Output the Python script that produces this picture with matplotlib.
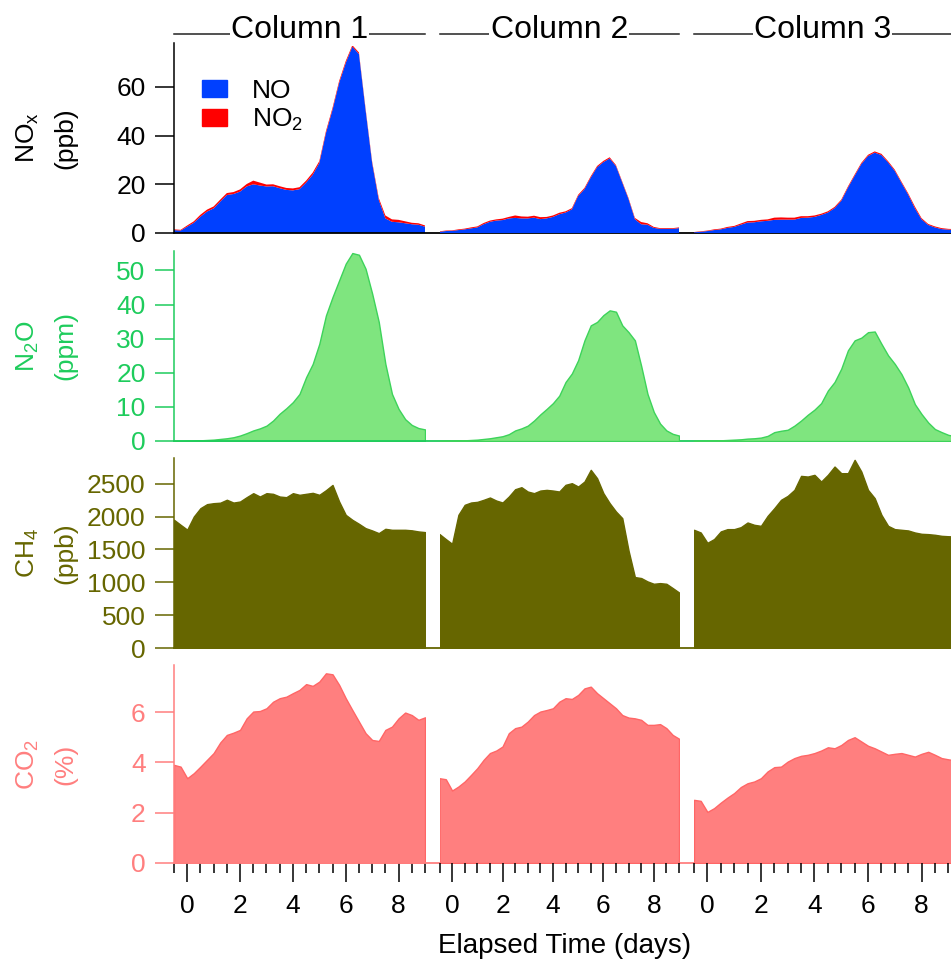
import numpy as np
import matplotlib
matplotlib.use("Agg")
import matplotlib.pyplot as plt
from matplotlib.lines import Line2D
from matplotlib.patches import Patch
from matplotlib.ticker import MultipleLocator, FixedLocator

plt.rcParams['font.family'] = ['Liberation Sans', 'DejaVu Sans']
plt.rcParams['mathtext.default'] = 'regular'

# elapsed time grid (days), column 3 runs a bit further
days_12 = np.arange(-0.5, 9.01, 0.25)
days_3 = np.arange(-0.5, 9.26, 0.25)

# NOx (ppb): NO and NO2, stacked
no_1 = [1.2, 1.0, 2.6, 4.2, 6.7, 8.8, 10.1, 12.9, 15.6, 16.0, 17.0, 19.1, 20.0, 19.5, 19.1, 19.2, 18.4, 17.7, 17.5, 18.0,
        20.7, 23.9, 28.7, 41.0, 50.6, 61.6, 69.8, 76.5, 73.5, 50.6, 28.7, 13.6, 6.0, 4.6, 4.4, 4.0, 3.6, 3.4, 2.6]
no2_1 = [0.3, 0.3, 0.5, 0.6, 0.8, 0.8, 0.8, 0.8, 0.8, 0.8, 0.9, 1.0, 1.5, 1.2, 0.8, 0.8, 0.8, 0.8, 0.8, 0.8,
         0.8, 0.9, 0.8, 0.8, 0.8, 0.8, 0.8, 0.6, 0.6, 0.6, 0.6, 0.8, 1.2, 1.0, 1.0, 0.8, 0.6, 0.6, 0.5]
no_2 = [0.5, 0.8, 0.9, 1.2, 1.5, 1.9, 2.3, 3.6, 4.6, 5.1, 5.3, 6.0, 6.2, 6.0, 6.0, 6.3, 5.7, 6.0, 6.6, 7.7,
        8.4, 9.7, 15.2, 18.0, 22.8, 27.0, 29.1, 30.6, 27.5, 20.7, 13.9, 5.7, 3.6, 3.4, 2.1, 1.7, 1.7, 1.7, 2.0]
no2_2 = [0.2, 0.2, 0.2, 0.3, 0.3, 0.4, 0.4, 0.5, 0.5, 0.5, 0.6, 0.6, 1.0, 0.8, 0.7, 0.8, 0.8, 0.6, 0.6, 0.6,
         0.5, 0.5, 0.5, 0.5, 0.5, 0.5, 0.5, 0.5, 0.4, 0.4, 0.4, 0.5, 0.9, 0.6, 0.4, 0.3, 0.3, 0.3, 0.3]
no_3 = [0.3, 0.5, 0.8, 1.2, 1.5, 2.1, 2.5, 3.4, 4.3, 4.4, 4.8, 5.0, 5.4, 5.5, 5.5, 5.5, 6.2, 6.3, 6.6, 7.4,
        8.4, 10.2, 13.2, 18.6, 23.5, 28.3, 31.6, 33.0, 32.0, 29.0, 25.5, 20.6, 15.8, 10.2, 5.6, 3.3, 2.3, 1.6, 1.4, 1.3]
no2_3 = [0.1, 0.2, 0.2, 0.3, 0.3, 0.4, 0.4, 0.5, 0.6, 0.6, 0.6, 0.6, 0.9, 0.9, 0.8, 0.8, 0.7, 0.6, 0.6, 0.5,
         0.5, 0.5, 0.5, 0.5, 0.5, 0.5, 0.5, 0.5, 0.5, 0.5, 0.5, 0.5, 0.5, 0.7, 0.5, 0.4, 0.4, 0.4, 0.3, 0.3]

# N2O (ppm)
n2o_1 = [0, 0.05, 0.1, 0.15, 0.2, 0.3, 0.4, 0.6, 0.8, 1.1, 1.6, 2.3, 3.1, 3.7, 4.5, 6.0, 8.0, 9.6, 11.4, 13.8,
         18.7, 22.6, 28.5, 36.8, 42.2, 47.1, 52.0, 55.1, 54.6, 50.5, 43.2, 34.9, 22.6, 13.8, 9.4, 6.4, 4.7, 3.8, 3.4]
n2o_2 = [0, 0.05, 0.1, 0.15, 0.2, 0.3, 0.4, 0.6, 0.8, 1.1, 1.4, 2.0, 3.1, 3.7, 4.5, 6.0, 7.8, 9.4, 11.1, 13.3,
         17.3, 19.8, 23.7, 29.5, 33.9, 34.9, 36.9, 38.3, 37.9, 33.9, 31.9, 29.5, 22.0, 13.8, 8.5, 5.1, 3.1, 2.1, 1.6]
n2o_3 = [0, 0.05, 0.1, 0.15, 0.2, 0.3, 0.4, 0.5, 0.7, 0.8, 1.0, 1.5, 2.6, 3.0, 3.3, 4.5, 6.0, 7.7, 9.2, 11.1,
         14.8, 17.3, 21.2, 26.6, 29.5, 30.3, 31.9, 32.1, 28.5, 25.1, 22.6, 19.6, 15.7, 10.8, 7.9, 5.4, 3.5, 2.6, 1.8, 1.4]

# CH4 (ppb)
ch4_1 = [1950, 1874, 1800, 2000, 2127, 2188, 2203, 2210, 2255, 2212, 2228, 2294, 2355, 2304, 2355, 2345, 2304, 2294, 2355, 2330,
         2345, 2360, 2330, 2400, 2480, 2228, 2025, 1950, 1889, 1823, 1788, 1747, 1813, 1798, 1798, 1798, 1790, 1773, 1763]
ch4_2 = [1733, 1657, 1585, 2026, 2178, 2213, 2223, 2254, 2289, 2243, 2213, 2304, 2415, 2446, 2380, 2355, 2395, 2405, 2395, 2380,
         2482, 2507, 2456, 2532, 2710, 2583, 2355, 2203, 2076, 1975, 1480, 1079, 1064, 1013, 977, 987, 977, 912, 845]
ch4_3 = [1798, 1757, 1600, 1657, 1773, 1808, 1808, 1838, 1909, 1874, 1858, 2010, 2127, 2254, 2314, 2405, 2618, 2608, 2634, 2532,
         2634, 2760, 2659, 2659, 2862, 2684, 2405, 2279, 2026, 1858, 1808, 1798, 1788, 1757, 1737, 1732, 1722, 1706, 1700, 1696]

# CO2 (%)
co2_1 = [3.90, 3.83, 3.37, 3.57, 3.83, 4.10, 4.37, 4.79, 5.09, 5.18, 5.29, 5.75, 6.02, 6.04, 6.15, 6.41, 6.55, 6.61, 6.75, 6.88,
         7.11, 7.04, 7.21, 7.54, 7.50, 7.08, 6.55, 6.08, 5.62, 5.16, 4.89, 4.85, 5.29, 5.42, 5.75, 5.98, 5.88, 5.69, 5.79]
co2_2 = [3.37, 3.33, 2.88, 3.04, 3.24, 3.50, 3.77, 4.10, 4.37, 4.47, 4.63, 5.16, 5.36, 5.42, 5.62, 5.88, 6.02, 6.08, 6.15, 6.41,
         6.55, 6.52, 6.68, 6.94, 7.01, 6.75, 6.55, 6.35, 6.15, 5.88, 5.78, 5.75, 5.69, 5.49, 5.49, 5.52, 5.36, 5.09, 4.94]
co2_3 = [2.51, 2.47, 2.03, 2.18, 2.40, 2.60, 2.78, 3.02, 3.17, 3.24, 3.37, 3.64, 3.81, 3.83, 4.03, 4.17, 4.26, 4.30, 4.37, 4.47,
         4.60, 4.56, 4.69, 4.89, 5.00, 4.83, 4.66, 4.56, 4.43, 4.30, 4.34, 4.37, 4.30, 4.23, 4.34, 4.42, 4.30, 4.17, 4.12, 4.08]

col_titles = ["Column 1", "Column 2", "Column 3"]
row_labels = ["NO$_x$\n(ppb)", "N$_2$O\n(ppm)", "CH$_4$\n(ppb)", "CO$_2$\n(%)"]
row_yticks = [[0, 20, 40, 60], [0, 10, 20, 30, 40, 50], [0, 500, 1000, 1500, 2000, 2500], [0, 2, 4, 6]]
row_ymax = [78, 55.7, 2890, 7.87]

# colours
blue, red = '#0040ff', '#ff0000'
row_color = ['#000000', '#1ecc5c', '#666600', '#ff7f7f']
row_fill = [None, '#7fe57f', '#666600', '#ff7f7f']
row_edge = [None, '#3dd35a', '#666600', '#ff6666']

W, H = 951, 961
fig = plt.figure(figsize=(W / 100, H / 100), dpi=100)
col_px = [(174, 425), (439.5, 679), (694, 951)]
col_xmax = [9.0, 9.0, 9.1]
row_px = [(43, 233), (251, 441), (458, 648), (665, 863)]

days = [days_12, days_12, days_3]
nos = [no_1, no_2, no_3]
no2s = [no2_1, no2_2, no2_3]
others = [[n2o_1, n2o_2, n2o_3], [ch4_1, ch4_2, ch4_3], [co2_1, co2_2, co2_3]]

for r in range(4):
    t, b = row_px[r]
    for c in range(3):
        l, rr = col_px[c]
        ax = fig.add_axes([l / W, 1 - b / H, (rr - l) / W, (b - t) / H])
        ax.patch.set_visible(False)
        ax.set_xlim(-0.5, col_xmax[c])
        ax.set_ylim(0, row_ymax[r])
        for s in ['top', 'right', 'bottom']:
            ax.spines[s].set_visible(False)
        x = days[c]
        if r == 0:
            ax.stackplot(x, nos[c], no2s[c], colors=[blue, red], lw=0)
        else:
            ax.fill_between(x, others[r - 1][c], color=row_fill[r], edgecolor=row_edge[r], lw=1.0)

        if c == 0:
            ax.spines['left'].set_color(row_color[r])
            ax.spines['left'].set_linewidth(1.1)
            ax.yaxis.set_major_locator(FixedLocator(row_yticks[r]))
            ax.tick_params(axis='y', direction='out', length=13.5, width=1.1, pad=7,
                           colors=row_color[r], labelsize=19)
            # zero line running across the whole row
            ax.axhline(0, xmin=0, xmax=(W - l) / (rr - l), color=row_color[r], lw=1.3, clip_on=False)
        else:
            ax.spines['left'].set_visible(False)
            ax.tick_params(axis='y', left=False, labelleft=False)

        if r == 3:
            ax.xaxis.set_major_locator(FixedLocator([0, 2, 4, 6, 8]))
            ax.xaxis.set_minor_locator(MultipleLocator(0.5))
            ax.tick_params(axis='x', which='major', direction='out', length=14, width=1.1, pad=8,
                           colors='black', labelsize=19)
            ax.tick_params(axis='x', which='minor', direction='out', length=7, width=1.1, colors='black')
        else:
            ax.tick_params(axis='x', which='both', bottom=False, labelbottom=False)

        if r == 0 and c == 0:
            handles = [Patch(color=blue, label='NO'), Patch(color=red, label='NO$_2$')]
            ax.legend(handles=handles, loc='upper left', bbox_to_anchor=(0.112, 0.812), frameon=False,
                      fontsize=19, handlelength=0.95, handleheight=0.64, handletextpad=0.95,
                      labelspacing=0.15, borderpad=0, borderaxespad=0)

    fig.text(46 / W, 1 - (t + b) / 2 / H, row_labels[r], rotation=90, ha='center', va='center',
             color=row_color[r], fontsize=19, linespacing=1.65, multialignment='center')

# column headers with rules either side
for c in range(3):
    l, rr = col_px[c]
    fig.add_artist(Line2D([l / W, rr / W], [1 - 34 / H] * 2, color='#222222', lw=1.1))
    fig.text((l + rr) / 2 / W, 1 - 38 / H, col_titles[c], ha='center', va='baseline', fontsize=23,
             bbox=dict(facecolor='white', edgecolor='none', pad=1))

fig.text(565 / W, 1 - 946 / H, "Elapsed Time (days)", ha='center', va='center', fontsize=20)

fig.savefig("out.png", dpi=100)
